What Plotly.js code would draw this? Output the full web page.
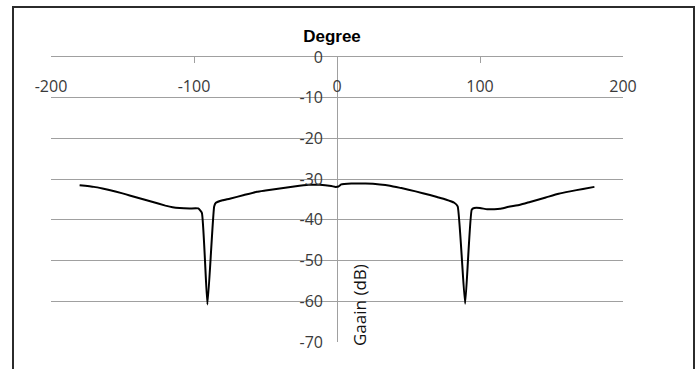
<!DOCTYPE html>
<html>
<head>
<meta charset="utf-8">
<script src="https://cdn.plot.ly/plotly-3.0.1.min.js"></script>
<style>
html,body{margin:0;padding:0;background:#fff;}
#wrap{position:relative;width:699px;height:369px;overflow:hidden;}
#chart{position:absolute;left:0;top:0;width:699px;height:369px;}
#frame{position:absolute;left:12px;top:6px;width:683px;height:420px;box-sizing:border-box;border:2px solid #2b2b2b;pointer-events:none;}
</style>
</head>
<body>
<div id="wrap"><div id="chart"></div><div id="frame"></div></div>
<script>
// Angle (degrees) and gain (dB)
const degree = [-180,-170,-164,-160,-150,-145,-140,-130,-120,-115,-110,-103,-97,-94.5,-90.6,-85.9,-84.7,-80,-75,-65,-56,-50,-40,-30,-20,-12,-4,-1,1,3,5,10,20,30,37,45,55,65,70,76,82,84.4,89.6,94.2,96,100,105,110,114,120,128,135,146,155,163,172,180];
const gain   = [-31.5,-31.9,-32.3,-32.6,-33.5,-34.0,-34.5,-35.5,-36.5,-36.9,-37.1,-37.2,-37.2,-38.3,-60.8,-36.7,-35.8,-35.2,-34.8,-33.9,-33.1,-32.8,-32.3,-31.8,-31.4,-31.4,-31.7,-31.9,-31.8,-31.3,-31.2,-31.1,-31.1,-31.3,-31.6,-32.2,-33.0,-33.9,-34.4,-35.0,-35.8,-36.7,-60.6,-37.5,-37.1,-37.1,-37.4,-37.4,-37.3,-36.8,-36.3,-35.6,-34.5,-33.6,-33.0,-32.4,-31.9];
const xTicks = [-200,-100,0,100,200];
const xTickText = ['-200','-100','0','100','200'];
const yTicks = [0,-10,-20,-30,-40,-50,-60,-70];
const yTickText = ['0','-10','-20','-30','-40','-50','-60','-70'];
const xTitle = 'Degree';
const yTitle = 'Gaain (dB)';

const W = 699, H = 369;
const M = {l:51, r:76, t:57, b:27};
const pw = W - M.l - M.r, ph = H - M.t - M.b;
const tickFont = {family:'Open Sans, sans-serif', size:16, color:'#3a3a3a'};

const trace = {
  x: degree, y: gain, type:'scatter', mode:'lines',
  line:{color:'#000', width:2, shape:'spline', smoothing:0.4}, xaxis:'x', yaxis:'y', hoverinfo:'skip'
};

const layout = {
  width: W, height: H,
  margin: M,
  paper_bgcolor:'#fff', plot_bgcolor:'#fff',
  showlegend:false,
  title:{text:xTitle, x:332/W, xanchor:'center', y:1-36/H, yanchor:'middle',
         font:{family:'Liberation Sans, Arial, sans-serif', size:17, color:'#000', weight:'bold'}},
  xaxis:{
    range:[-200,200], side:'top', showline:true, linecolor:'#a0a0a0', linewidth:1,
    ticks:'inside', ticklen:6, tickcolor:'#a0a0a0', tickwidth:1,
    tickvals:[-200,-100,100,200], showticklabels:false,
    showgrid:false, zeroline:true, zerolinecolor:'#a0a0a0', zerolinewidth:1, fixedrange:true
  },
  xaxis2:{
    overlaying:'x', matches:'x', range:[-200,200], anchor:'free', position:1-18/ph, side:'bottom',
    showline:false, ticks:'', showgrid:false, zeroline:false,
    tickvals:xTicks, ticktext:xTickText, tickfont:tickFont, fixedrange:true
  },
  yaxis:{
    range:[-70,0], anchor:'free', position:0.5, side:'left',
    showline:false, ticks:'', zeroline:false,
    showgrid:true, gridcolor:'#a0a0a0', gridwidth:1,
    tickvals:yTicks, ticktext:yTickText, tickfont:tickFont, ticklabelstandoff:14, fixedrange:true
  },
  annotations:[{
    text:yTitle, xref:'paper', yref:'paper', x:(359-M.l)/pw, y:1-(305-M.t)/ph,
    xanchor:'center', yanchor:'middle', textangle:-90, showarrow:false,
    font:{family:'Open Sans, sans-serif', size:17, color:'#111'}
  }]
};

const dummy = {x:[], y:[], type:'scatter', mode:'lines', xaxis:'x2', yaxis:'y', hoverinfo:'skip'};

Plotly.newPlot('chart', [trace, dummy], layout, {staticPlot:true, displayModeBar:false});
</script>
</body>
</html>
